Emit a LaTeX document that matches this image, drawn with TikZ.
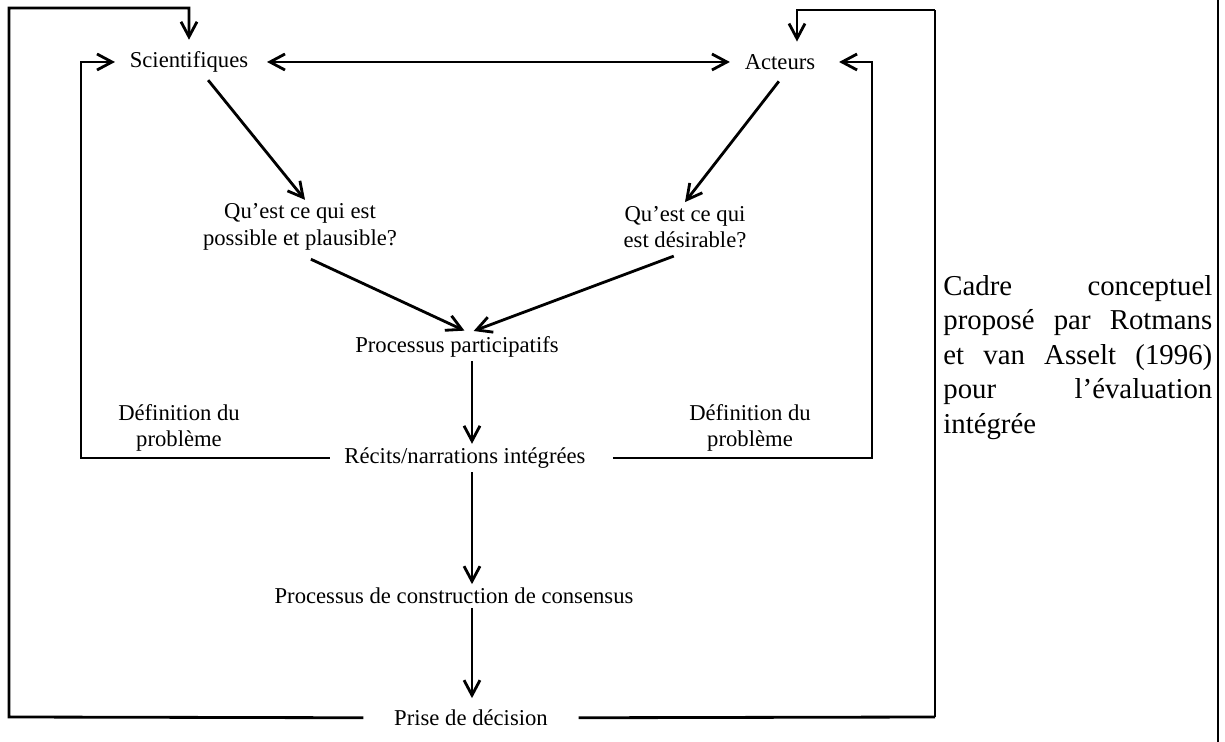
\documentclass[tikz,border=0pt]{standalone}
\usepackage{fontspec}
\setmainfont{Liberation Serif}
\usepackage{tikz}
\usetikzlibrary{arrows.meta, positioning}
\tikzstyle{txt} = [inner sep=2pt, align=center, font=\fontsize{12.9}{15.2}\selectfont]
\tikzstyle{wire} = [line width=1.6pt]
\tikzstyle{flow} = [wire, -{Straight Barb[length=3mm, width=3.2mm, line width=1.6pt]}]
\tikzstyle{both} = [wire, {Straight Barb[length=3mm, width=3.2mm, line width=1.6pt]}-{Straight Barb[length=3mm, width=3.2mm, line width=1.6pt]}]
\tikzstyle{cell} = [line width=0.6pt]

\begin{document}
\begin{tikzpicture}[x=0.02cm, y=-0.02cm]
				\useasboundingbox (0, 0) rectangle (1225, 742);

				\node (Sci) [txt] at (189, 62) {Scientifiques};
				\node (Act) [txt] at (780, 62) {Acteurs};
				\draw [both, shorten <=0.3cm, shorten >=0.22cm] (Sci) -- (Act);

				\node (Q1) [txt] at (300, 227) {Qu’est ce qui est\\possible et plausible?};
				\node (Q2) [txt] at (685, 227) {Qu’est ce qui\\est désirable?};
				\draw [flow, shorten <=0.1cm] ([xshift=0.32cm]Sci.south) -- ([xshift=0.1cm]Q1.north);
				\draw [flow, shorten <=0.2cm] ([xshift=0.1cm]Act.south) -- (Q2.north);

				\node (PP) [txt] at (457, 347) {Processus participatifs};
				\draw [flow, shorten <=0.24cm, shorten >=0.1cm] (Q1.south) -- ([xshift=0.24cm]PP.north);
				\draw [flow, shorten <=0.24cm, shorten >=0.1cm] (Q2.south) -- ([xshift=0.24cm]PP.north);

				% the spine
				\coordinate (Spine) at (472, 0);
				\node (Rec) [txt] at (465, 458) {Récits/narrations intégrées};
				\node (Cons) [txt] at (454, 596) {Processus de construction de consensus};
				\node (Dec) [txt] at (471, 718) {Prise de décision};
				\draw [flow] (PP.south -| Spine) -- (Rec.north -| Spine);
				\draw [flow] (Rec.south -| Spine) -- (Cons.north -| Spine);
				\draw [flow, shorten >=0.16cm] (Cons.south -| Spine) -- (Dec.north -| Spine);

				% problem definition loops
				\node (DefL) [txt] at (179, 428) {Définition du\\problème};
				\node (DefR) [txt] at (750, 428) {Définition du\\problème};
				\coordinate (LoopLB) at (81, 458);
				\coordinate (LoopLT) at (81, 62);
				\draw [flow, shorten <=0.22cm, shorten >=0.22cm] (Rec) -- (LoopLB) -- (LoopLT) -- (Sci);
				\coordinate (LoopRB) at (872, 458);
				\coordinate (LoopRT) at (872, 62);
				\draw [flow, shorten <=0.47cm, shorten >=0.4cm] (Rec) -- (LoopRB) -- (LoopRT) -- (Act);

				% decision loops
				\coordinate (OutLB) at (9, 717);
				\coordinate (OutLT) at (9, 8);
				\draw [flow, shorten <=0.54cm, shorten >=0.16cm] (Dec) -- (OutLB) -- (OutLT) -| (Sci);
				\coordinate (OutRB) at (935, 717);
				\coordinate (OutRT) at (935, 10);
				\coordinate (OutRA) at (797, 10);
				\draw [wire, shorten <=0.54cm] (Dec) -- (OutRB);
				\draw [cell] (OutRB) -- (OutRT);
				\draw [flow, shorten >=0.18cm] (OutRT) -- (OutRA) -- (OutRA |- Act.north);

				% caption cell
				\coordinate (CellT) at (1218, 0);
				\coordinate (CellB) at (1218, 742);
				\draw [cell] (CellT) -- (CellB);
				\node (Caption) [anchor=north west, text width=5.38cm, align=justify, inner sep=0pt,
				                 font=\fontsize{16.4}{19.6}\selectfont] at (943, 275)
				      {Cadre\hfill conceptuel\\ proposé\hfill par\hfill Rotmans\\ et\hfill van\hfill Asselt\hfill (1996)\\ pour\hfill l’évaluation\\ intégrée};
			\end{tikzpicture}
\end{document}
